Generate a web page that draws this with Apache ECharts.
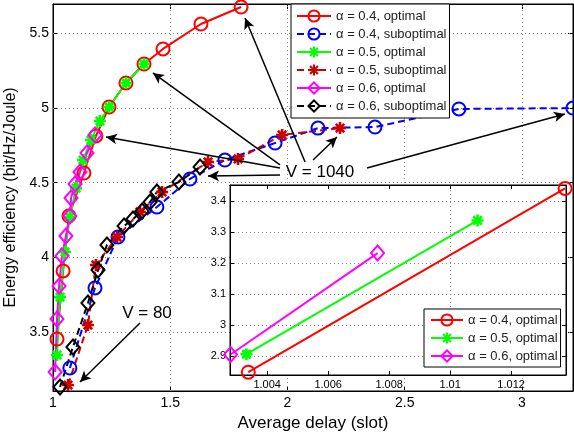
<!DOCTYPE html>
<html><head><meta charset="utf-8">
<script src="https://cdn.jsdelivr.net/npm/echarts@6/dist/echarts.min.js"></script>
<style>html,body{margin:0;padding:0;background:#fff}#c{width:574px;height:434px}</style>
</head><body><div id="c"></div>
<script>
// ---------- data ----------
const seriesNames = ["α = 0.4, optimal", "α = 0.4, suboptimal", "α = 0.5, optimal", "α = 0.5, suboptimal", "α = 0.6, optimal", "α = 0.6, suboptimal"];
const insetNames = ["α = 0.4, optimal", "α = 0.5, optimal", "α = 0.6, optimal"];

const a04OptX = [1.017, 1.043, 1.068, 1.132, 1.183, 1.239, 1.311, 1.388, 1.469, 1.631, 1.802];
const a04OptY = [3.453, 3.909, 4.277, 4.565, 4.813, 5.007, 5.168, 5.295, 5.396, 5.563, 5.677];
const a04SubX = [1.072, 1.179, 1.277, 1.443, 1.584, 1.733, 1.947, 2.130, 2.373, 2.731, 3.217];
const a04SubY = [3.259, 3.795, 4.136, 4.337, 4.525, 4.652, 4.766, 4.866, 4.873, 4.994, 5.000];
const a05OptX = [1.017, 1.030, 1.051, 1.072, 1.098, 1.128, 1.162, 1.200, 1.239, 1.311, 1.388];
const a05OptY = [3.346, 3.734, 4.036, 4.270, 4.464, 4.652, 4.786, 4.913, 5.007, 5.168, 5.295];
const a05SubX = [1.064, 1.149, 1.183, 1.273, 1.371, 1.465, 1.661, 1.789, 1.977, 2.224];
const a05SubY = [3.145, 3.547, 3.949, 4.136, 4.304, 4.438, 4.639, 4.659, 4.820, 4.866];
const a06OptX = [1.009, 1.017, 1.026, 1.038, 1.055, 1.072, 1.077, 1.094, 1.115, 1.145, 1.179];
const a06OptY = [3.232, 3.587, 3.808, 4.009, 4.143, 4.277, 4.397, 4.491, 4.572, 4.699, 4.819];
const a06SubX = [1.030, 1.085, 1.149, 1.192, 1.230, 1.303, 1.341, 1.380, 1.414, 1.443, 1.537, 1.627];
const a06SubY = [3.132, 3.400, 3.694, 3.915, 4.083, 4.210, 4.257, 4.310, 4.371, 4.438, 4.505, 4.605];

// inset (zoom on the lowest points)
const in04X = [1.00338, 1.01377];
const in04Y = [2.849, 3.440];
const in05X = [1.00332, 1.01090];
const in05Y = [2.907, 3.337];
const in06X = [1.00280, 1.00762];
const in06Y = [2.906, 3.232];

// tick labels
const mainXTicks = [1, 1.5, 2, 2.5, 3];
const mainYTicks = [3.5, 4, 4.5, 5, 5.5];
const insetXTicks = [1.004, 1.006, 1.008, 1.01, 1.012];
const insetYTicks = [2.9, 3, 3.1, 3.2, 3.3, 3.4];

// annotation arrows [startX, startY, endX, endY] in data units of the main axes
const arrows1040 = [
  [2.075, 4.639, 1.819, 5.603],
  [1.968, 4.619, 1.426, 5.235],
  [1.968, 4.599, 1.226, 4.806],
  [1.968, 4.552, 1.661, 4.545],
  [2.109, 4.652, 2.211, 4.806],
  [2.339, 4.599, 3.183, 4.960]
];
const arrows80 = [[1.371, 3.560, 1.115, 3.165]];

// ---------- chart ----------
const FONT = "'Liberation Sans', Arial, Helvetica, sans-serif";
const zip = (xs, ys) => xs.map((x, i) => [x, ys[i]]);
const STAR = 'path://M5,0L5,10M0,5L10,5M1.5,1.5L8.5,8.5M1.5,8.5L8.5,1.5';

function mk(name, xs, ys, color, symbol, size, dashed, xi, yi, z) {
  const bw = symbol === STAR ? 2.6 : 2;
  return {
    type: 'line', name, data: zip(xs, ys), xAxisIndex: xi, yAxisIndex: yi,
    symbol, symbolSize: size, showAllSymbol: true, clip: false, z: z,
    lineStyle: { color, width: 2, type: dashed ? [7, 4] : 'solid' },
    itemStyle: { color: 'rgba(0,0,0,0)', borderColor: color, borderWidth: bw },
    emphasis: { disabled: true }, animation: false, silent: true
  };
}

const RED = '#ff0000', BLUE = '#0000ff', GREEN = '#00ff00', DRED = '#cc0000', MAG = '#ff00ff', BLK = '#000000';

const gridLineStyle = { color: '#8a8a8a', width: 1, type: [1, 3] };

function axisCommon(extra) {
  return Object.assign({
    type: 'value',
    axisLine: { show: true, onZero: false, lineStyle: { color: '#000', width: 1 } },
    splitLine: { show: false },
    animation: false
  }, extra);
}

const option = {
  animation: false,
  backgroundColor: '#fff',
  grid: [
    { left: 53, top: 4, width: 520, height: 387, show: true, borderColor: '#000', borderWidth: 1, backgroundColor: 'rgba(0,0,0,0)', containLabel: false, outerBoundsMode: 'none', z: 0 },
    { left: 230, top: 185, width: 336, height: 190, show: true, borderColor: '#000', borderWidth: 1, backgroundColor: '#fff', containLabel: false, outerBoundsMode: 'none', z: 3 }
  ],
  xAxis: [
    axisCommon({ gridIndex: 0, position: 'bottom', min: 1, max: 3.2175,
      axisTick: { inside: true, length: 5, customValues: mainXTicks, lineStyle: { color: '#000' } },
      axisLabel: { customValues: mainXTicks, color: '#000', fontSize: 14, margin: 5, fontFamily: FONT },
      name: 'Average delay (slot)', nameLocation: 'middle', nameGap: 14,
      nameTextStyle: { fontSize: 17, color: '#000', fontFamily: FONT } }),
    axisCommon({ gridIndex: 0, position: 'top', min: 1, max: 3.2175,
      axisTick: { inside: true, length: 5, customValues: mainXTicks, lineStyle: { color: '#000' } },
      axisLabel: { show: false } }),
    axisCommon({ gridIndex: 1, position: 'bottom', min: 1.00278, max: 1.0138, z: 4,
      axisTick: { inside: true, length: 4, customValues: insetXTicks, lineStyle: { color: '#000' } },
      axisLabel: { customValues: insetXTicks, color: '#000', fontSize: 11, margin: 4, fontFamily: FONT } }),
    axisCommon({ gridIndex: 1, position: 'top', min: 1.00278, max: 1.0138, z: 4,
      axisTick: { inside: true, length: 4, customValues: insetXTicks, lineStyle: { color: '#000' } },
      axisLabel: { show: false } })
  ],
  yAxis: [
    axisCommon({ gridIndex: 0, position: 'left', min: 3.105, max: 5.697,
      axisTick: { inside: true, length: 5, customValues: mainYTicks, lineStyle: { color: '#000' } },
      axisLabel: { customValues: mainYTicks, color: '#000', fontSize: 14, margin: 4, fontFamily: FONT },
      name: 'Energy efficiency (bit/Hz/Joule)', nameLocation: 'middle', nameGap: 24,
      nameTextStyle: { fontSize: 16, color: '#000', fontFamily: FONT } }),
    axisCommon({ gridIndex: 0, position: 'right', min: 3.105, max: 5.697,
      axisTick: { inside: true, length: 5, customValues: mainYTicks, lineStyle: { color: '#000' } },
      axisLabel: { show: false } }),
    axisCommon({ gridIndex: 1, position: 'left', min: 2.84, max: 3.451, z: 4,
      axisTick: { inside: true, length: 4, customValues: insetYTicks, lineStyle: { color: '#000' } },
      axisLabel: { customValues: insetYTicks, color: '#000', fontSize: 11, margin: 4, fontFamily: FONT } }),
    axisCommon({ gridIndex: 1, position: 'right', min: 2.84, max: 3.451, z: 4,
      axisTick: { inside: true, length: 4, customValues: insetYTicks, lineStyle: { color: '#000' } },
      axisLabel: { show: false } })
  ],
  legend: [
    { data: seriesNames, orient: 'vertical', left: 291, top: 4,
      itemWidth: 34, itemHeight: 14, itemGap: 4, padding: [5, 3, 5, 5],
      backgroundColor: '#fff', borderColor: '#000', borderWidth: 1, borderRadius: 0,
      textStyle: { fontSize: 13, color: '#222', fontFamily: FONT, lineHeight: 14 },
      selectedMode: false, z: 10 },
    { data: insetNames, orient: 'vertical', left: 424, top: 309,
      itemWidth: 32, itemHeight: 14, itemGap: 4, padding: [4, 3, 4, 6],
      backgroundColor: '#fff', borderColor: '#000', borderWidth: 1, borderRadius: 0,
      textStyle: { fontSize: 13, color: '#222', fontFamily: FONT, lineHeight: 14 },
      selectedMode: false, z: 10 }
  ],
  graphic: [
    { type: 'text', x: 320, y: 172, z: 10, style: { text: 'V = 1040', font: '17px ' + FONT, fill: '#000', align: 'center', verticalAlign: 'middle', textAlign: 'center', textVerticalAlign: 'middle' } },
    { type: 'text', x: 147, y: 313, z: 10, style: { text: 'V = 80', font: '17px ' + FONT, fill: '#000', align: 'center', verticalAlign: 'middle', textAlign: 'center', textVerticalAlign: 'middle' } }
  ],
  series: [
    { type: 'line', name: '_grid', data: [], xAxisIndex: 0, yAxisIndex: 0, silent: true,
      markLine: { silent: true, z: 1, symbol: ['none', 'none'], animation: false,
        label: { show: false }, lineStyle: gridLineStyle, emphasis: { disabled: true },
        data: mainXTicks.filter(v => v > 1).map(v => ({ xAxis: v })).concat(mainYTicks.map(v => ({ yAxis: v }))) } },
    { type: 'line', name: '_igrid', data: [], xAxisIndex: 2, yAxisIndex: 2, silent: true,
      markLine: { silent: true, z: 3.5, symbol: ['none', 'none'], animation: false,
        label: { show: false }, lineStyle: gridLineStyle, emphasis: { disabled: true },
        data: insetXTicks.map(v => ({ xAxis: v })).concat(insetYTicks.map(v => ({ yAxis: v }))) } },
    mk(seriesNames[0], a04OptX, a04OptY, RED, 'circle', 13, false, 0, 0, 2),
    mk(seriesNames[1], a04SubX, a04SubY, BLUE, 'circle', 13, true, 0, 0, 2),
    mk(seriesNames[2], a05OptX, a05OptY, GREEN, STAR, 12, false, 0, 0, 2),
    mk(seriesNames[3], a05SubX, a05SubY, DRED, STAR, 12, true, 0, 0, 2),
    mk(seriesNames[4], a06OptX, a06OptY, MAG, 'diamond', [13, 15], false, 0, 0, 2),
    mk(seriesNames[5], a06SubX, a06SubY, BLK, 'diamond', [13, 15], true, 0, 0, 2),
    mk(insetNames[0], in04X, in04Y, RED, 'circle', 13, false, 2, 2, 4),
    mk(insetNames[1], in05X, in05Y, GREEN, STAR, 12, false, 2, 2, 4),
    mk(insetNames[2], in06X, in06Y, MAG, 'diamond', [13, 15], false, 2, 2, 4),
    { type: 'line', name: '_arrows', data: [], xAxisIndex: 0, yAxisIndex: 0, silent: true,
      markLine: { silent: true, z: 5, symbol: ['none', 'arrow'], symbolSize: [8, 11], animation: false,
        label: { show: false }, lineStyle: { color: '#000', width: 1.5, type: 'solid' }, itemStyle: { color: '#000' },
        emphasis: { disabled: true },
        data: arrows1040.concat(arrows80).map(a => [{ coord: [a[0], a[1]] }, { coord: [a[2], a[3]] }]) } }
  ]
};

const chart = echarts.init(document.getElementById('c'), null, { renderer: 'canvas' });
chart.setOption(option);
</script>
</body></html>
